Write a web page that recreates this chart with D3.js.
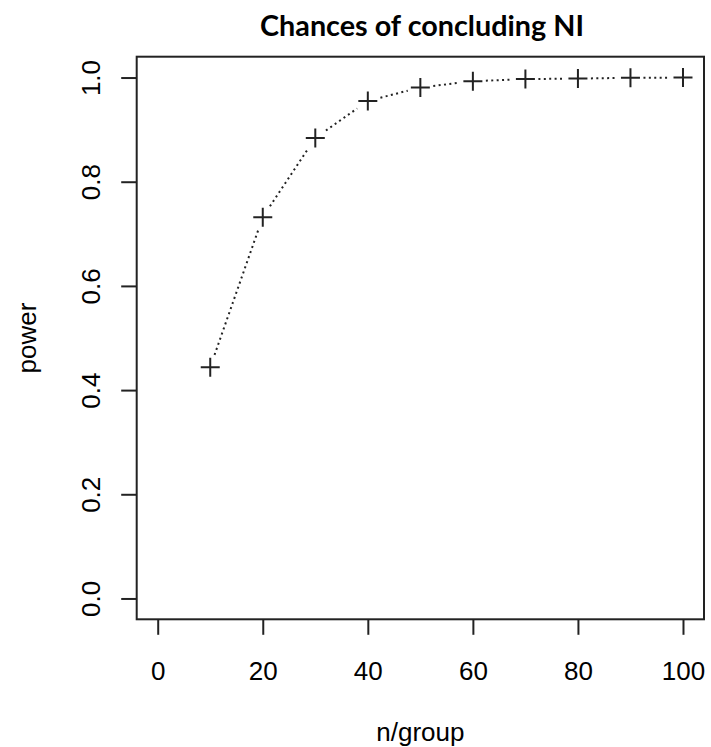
<!DOCTYPE html>
<html>
<head>
<meta charset="utf-8">
<script src="https://cdn.jsdelivr.net/npm/d3@7"></script>
<style>
  html, body { margin: 0; padding: 0; background: #fff; }
  svg { display: block; }
</style>
</head>
<body>
<div id="chart"></div>
<script>
// power curve for concluding non-inferiority, per group size
const n_per_group = [10, 20, 30, 40, 50, 60, 70, 80, 90, 100];
const power = [0.444, 0.732, 0.884, 0.955, 0.981, 0.993, 0.997, 0.998, 0.9995, 0.9999];
const x_ticks = [0, 20, 40, 60, 80, 100];
const y_ticks = [0, 0.2, 0.4, 0.6, 0.8, 1.0];
const title_text = 'Chances of concluding NI';
const x_label = 'n/group';
const y_label = 'power';

const width = 711, height = 747;
const plot = { left: 136.7, right: 704, top: 56.7, bottom: 619.3 };
const ink = '#222';
const tick_len = 15.5;

// R style: 4% padding on each side of the data range
const x = d3.scaleLinear().domain([-4, 104]).range([plot.left, plot.right]);
const y = d3.scaleLinear().domain([-0.04, 1.04]).range([plot.bottom, plot.top]);

const svg = d3.select('#chart').append('svg')
  .attr('width', width)
  .attr('height', height)
  .style('font-family', '"Liberation Sans", Arial, sans-serif');

// box round the plot region
svg.append('rect')
  .attr('x', plot.left)
  .attr('y', plot.top)
  .attr('width', plot.right - plot.left)
  .attr('height', plot.bottom - plot.top)
  .attr('fill', 'none')
  .attr('stroke', ink)
  .attr('stroke-width', 2);

// x axis (the box already draws the axis line)
const x_axis = svg.append('g')
  .attr('transform', `translate(0, ${plot.bottom})`)
  .call(d3.axisBottom(x).tickValues(x_ticks).tickSize(tick_len).tickPadding(0).tickFormat(d3.format('d')));
x_axis.select('.domain').remove();
x_axis.selectAll('.tick line').attr('stroke', ink).attr('stroke-width', 2);
x_axis.selectAll('.tick text')
  .attr('y', 61)
  .attr('dy', null)
  .attr('fill', '#000')
  .style('font-size', '26px')
  .style('font-family', '"Liberation Sans", Arial, sans-serif');

// y axis, labels parallel to the axis
const y_axis = svg.append('g')
  .attr('transform', `translate(${plot.left}, 0)`)
  .call(d3.axisLeft(y).tickValues(y_ticks).tickSize(tick_len).tickPadding(0).tickFormat(d3.format('.1f')));
y_axis.select('.domain').remove();
y_axis.selectAll('.tick line').attr('stroke', ink).attr('stroke-width', 2);
y_axis.selectAll('.tick text')
  .attr('x', null)
  .attr('dy', null)
  .attr('transform', 'translate(-36.5, 0) rotate(-90)')
  .attr('text-anchor', 'middle')
  .attr('fill', '#000')
  .style('font-size', '26px')
  .style('font-family', '"Liberation Sans", Arial, sans-serif');

// axis titles
svg.append('text')
  .attr('x', (plot.left + plot.right) / 2)
  .attr('y', 741)
  .attr('text-anchor', 'middle')
  .style('font-size', '26px')
  .text(x_label);

svg.append('text')
  .attr('transform', `translate(36, ${(plot.top + plot.bottom) / 2}) rotate(-90)`)
  .attr('text-anchor', 'middle')
  .style('font-size', '26px')
  .text(y_label);

// main title
const title = svg.append('text')
  .attr('x', 422)
  .attr('y', 36)
  .attr('text-anchor', 'middle')
  .style('font-family', 'Lato, "Open Sans", sans-serif')
  .style('font-weight', 'bold')
  .style('font-size', '27px')
  .text(title_text);
// fit the title to the width seen in the picture
const title_w = title.node().getComputedTextLength();
title.style('font-size', (27 * 324 / title_w).toFixed(2) + 'px');

// dotted connectors, shortened at both ends like type = "b"
const pts = n_per_group.map((n, i) => [x(n), y(power[i])]);
const gap = 13;
const segments = d3.pairs(pts).map(([a, b]) => {
  const dx = b[0] - a[0], dy = b[1] - a[1];
  const len = Math.hypot(dx, dy);
  const ux = dx / len, uy = dy / len;
  return [[a[0] + ux * gap, a[1] + uy * gap], [b[0] - ux * gap, b[1] - uy * gap]];
});
svg.append('g')
  .selectAll('path')
  .data(segments)
  .join('path')
  .attr('d', d => d3.line()(d))
  .attr('fill', 'none')
  .attr('stroke', ink)
  .attr('stroke-width', 2)
  .attr('stroke-dasharray', '2,3.4');

// plus markers (pch = 3)
svg.append('g')
  .selectAll('path')
  .data(pts)
  .join('path')
  .attr('transform', d => `translate(${d[0]}, ${d[1]})`)
  .attr('d', 'M-9.5,0H9.5M0,-9.5V9.5')
  .attr('fill', 'none')
  .attr('stroke', ink)
  .attr('stroke-width', 2);
</script>
</body>
</html>
